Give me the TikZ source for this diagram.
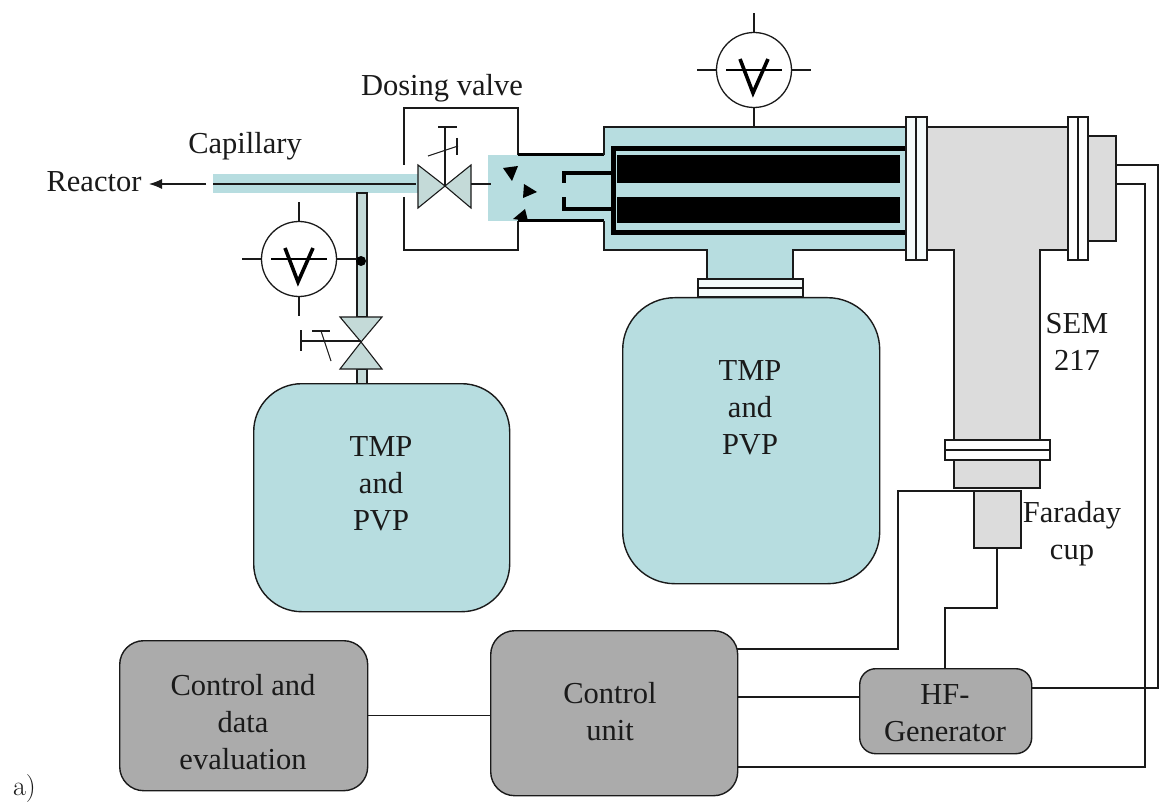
\documentclass[tikz,border=0pt]{standalone}
\usepackage{fontspec}
\usetikzlibrary{arrows.meta}
\setmainfont{Liberation Serif}
\newfontfamily\lmfont{Latin Modern Roman}
\definecolor{teal1}{HTML}{B7DDE0}
\definecolor{grey1}{HTML}{DCDCDC}
\definecolor{grey2}{HTML}{ABABAB}
\definecolor{valvec}{HTML}{C4DAD8}
\definecolor{ink}{HTML}{1A1A1A}
\tikzset{
  x=1pt,y=-1pt,
  line/.style={draw=ink,line width=1.4pt},
  thin line/.style={draw=ink,line width=1.1pt},
  heavy/.style={draw=black,line width=3pt},
  label text/.style={font=\fontsize{30.5}{37}\selectfont,text=ink,align=center,inner sep=0pt},
  pump/.style={rectangle,rounded corners=48pt,draw=ink,line width=1.4pt,fill=teal1,anchor=north west,inner sep=0pt},
  ctrlbox/.style={rectangle,rounded corners=24pt,draw=ink,line width=1.4pt,fill=grey2,anchor=north west,inner sep=0pt},
  flange/.style={draw=ink,line width=1.4pt,fill=white!85!teal1},
  gaugec/.style={circle,draw=ink,line width=1.3pt,fill=white,minimum size=75pt,inner sep=0pt},
  valvefill/.style={draw=ink,line width=1.1pt,fill=valvec},
}
\begin{document}
\begin{tikzpicture}
\useasboundingbox (0,0) rectangle (1160,805);
\fill[white] (0,0) rectangle (1160,805);

% valve box
\draw[thin line] (404,165) -- (404,108) -- (518,108) -- (518,155);
\draw[thin line] (404,197) -- (404,250) -- (518,250) -- (518,221);

% capillary
\fill[teal1] (213,174) rectangle (418,193);
\draw[thin line] (213,184) -- (416,184);

% vertical tube to left pump
\draw[line,fill=valvec] (357,193) rectangle (367,317);
\draw[line,fill=valvec] (357,369) rectangle (367,384);

% left pump
\node[pump,minimum width=256pt,minimum height=228pt] (pumpL) at (253,383) {};
\node[label text] at (381,484) {TMP\\and\\PVP};

% chamber
\fill[teal1] (488,155) rectangle (604,221);
\fill[teal1] (604,127) rectangle (906,250);
\fill[teal1] (708,245) rectangle (792,280);
\draw[heavy] (518,155) -- (604,155);
\draw[heavy] (518,221) -- (604,221);
\draw[line] (906,127) -- (604,127) -- (604,155);
\draw[line] (604,221) -- (604,250) -- (707,250) -- (707,279);
\draw[line] (906,250) -- (793,250) -- (793,279);
% inner frame
\draw[black,line width=5pt] (906,148.5) -- (613.5,148.5) -- (613.5,232.5) -- (906,232.5);
\fill[black] (617,155) rectangle (900,183);
\fill[black] (617,197) rectangle (900,223);
% inner tube
\draw[black,line width=4pt] (611,173) -- (563.5,173) -- (563.5,183);
\draw[black,line width=4pt] (611,209) -- (563.5,209) -- (563.5,197);
% jet triangles
\fill[black] (503,168) -- (518,166) -- (512,181) -- cycle;
\fill[black] (524,184) -- (537,192) -- (523,198) -- cycle;
\fill[black] (513,219) -- (525,209) -- (528,221) -- cycle;

% dosing valve symbol
\draw[valvefill] (445,186) -- (418,165) -- (418,208) -- cycle;
\draw[valvefill] (445,186) -- (471,165) -- (471,208) -- cycle;
\draw[thin line] (445,186) -- (445,127);
\draw[thin line] (438,127) -- (457,127);
\draw[thin line] (428,156) -- (458,146);
\draw[thin line] (457,138) -- (457,155);
\draw[thin line] (471,184) -- (491,184);

% right pump
\draw[flange] (698,279) rectangle (803,297);
\draw[line] (698,288) -- (803,288);
\node[pump,minimum width=257pt,minimum height=286pt,rounded corners=52pt] (pumpR) at (622,297) {};
\node[label text] at (750,408) {TMP\\and\\PVP};

% SEM
\draw[line,fill=grey1] (954,440) -- (954,250) -- (927,250) -- (927,127) -- (1068,127) -- (1068,250) -- (1040,250) -- (1040,440) -- cycle;
\draw[line,fill=grey1] (954,459) rectangle (1040,488);
\draw[line,fill=grey1] (1088,136) rectangle (1116,241);
\draw[line,fill=grey1] (974,491) rectangle (1021,548);
\draw[flange] (906,117) rectangle (927,260);
\draw[line] (916,117) -- (916,260);
\draw[line,fill=white] (1068,117) rectangle (1088,260);
\draw[line] (1078,117) -- (1078,260);
\draw[line,fill=white] (945,440) rectangle (1050,460);
\draw[line] (945,450) -- (1050,450);

% control boxes
\node[ctrlbox,minimum width=248pt,minimum height=150pt] (evalbox) at (119,640) {};
\node[label text] (evaltext) at (243,722) {Control and\\data\\evaluation};
\node[ctrlbox,minimum width=247pt,minimum height=165pt] (ctrlunit) at (490,630) {};
\node[label text] (ctrltext) at (610,712) {Control\\unit};
\node[ctrlbox,minimum width=172pt,minimum height=85pt,rounded corners=16pt] (hfgen) at (859,668) {};
\node[label text] (hftext) at (945,713) {HF-\\Generator};

% free ends of connectors
\coordinate (capTop) at (1116,165);
\coordinate (capLow) at (1116,184);
\coordinate (cupWest) at (974,491);
\coordinate (cupSouth) at (997,548);
\coordinate (hfTop) at (945,668);
\coordinate (ctrlA) at (737,649);
\coordinate (ctrlB) at (737,697);
\coordinate (ctrlC) at (737,767);
\coordinate (hfEast) at (1031,688);
\coordinate (hfWest) at (859,697);

% connectors
\draw[line] (evalbox.east) -- (evalbox.east -| ctrlunit.west);
\draw[line] (ctrlB) -- (hfWest);
\draw[line] (ctrlA) -- (898,649) -- (898,491) -- (cupWest);
\draw[line] (cupSouth) -- (997,608) -- (945,608) -- (hfTop);
\draw[line] (hfEast) -- (1158,688) -- (1158,165) -- (capTop);
\draw[line] (ctrlC) -- (1145,767) -- (1145,184) -- (capLow);

% gauges
\foreach \nm/\cx/\cy in {gaugeL/299/259,gaugeT/754/70}{
  \node[gaugec] (\nm) at (\cx,\cy) {};
  \draw[thin line] (\nm.north) -- +(0,-19);
  \draw[thin line] (\nm.south) -- +(0,19);
  \draw[thin line] (\nm.west) -- +(-19,0);
  \draw[thin line] (\nm.east) -- +(19,0);
  \draw[draw=black,line width=2.5pt] ([xshift=-28pt]\nm.center) -- ([xshift=28pt]\nm.center);
  \draw[draw=black,line width=3.6pt] ([shift={(-14pt,11pt)}]\nm.center) -- ([shift={(-1pt,-23pt)}]\nm.center) -- ([shift={(14pt,11pt)}]\nm.center);
}
\draw[thin line] (gaugeL.east) -- (361,259);
\fill[black] (361,261) circle (5pt);

% shut-off valve
\draw[valvefill] (361,342) -- (340,317) -- (382,317) -- cycle;
\draw[valvefill] (361,342) -- (340,369) -- (382,369) -- cycle;
\draw[thin line] (361,341) -- (301,341);
\draw[thin line] (301,330) -- (301,351);
\draw[thin line] (312,331) -- (330,331);
\draw[thin line] (321,331) -- (331,361);

% labels
\node[label text] (dosing) at (442,88) {Dosing valve};
\node[label text] (capill) at (245,146) {Capillary};
\node[label text] (reactor) at (94,182) {Reactor};
\coordinate (capArrowStart) at (206,184);
\draw[thin line,-{Latex[length=13pt,width=10pt]}] (capArrowStart) -- (149,184);
\node[label text] (semlbl) at (1077,342) {SEM\\217};
\node[label text] (faraday) at (1072,534) {Faraday\\cup};
\node[label text,font=\lmfont\fontsize{28}{32}\selectfont] (alabel) at (24.5,789) {a)};
\end{tikzpicture}
\end{document}
